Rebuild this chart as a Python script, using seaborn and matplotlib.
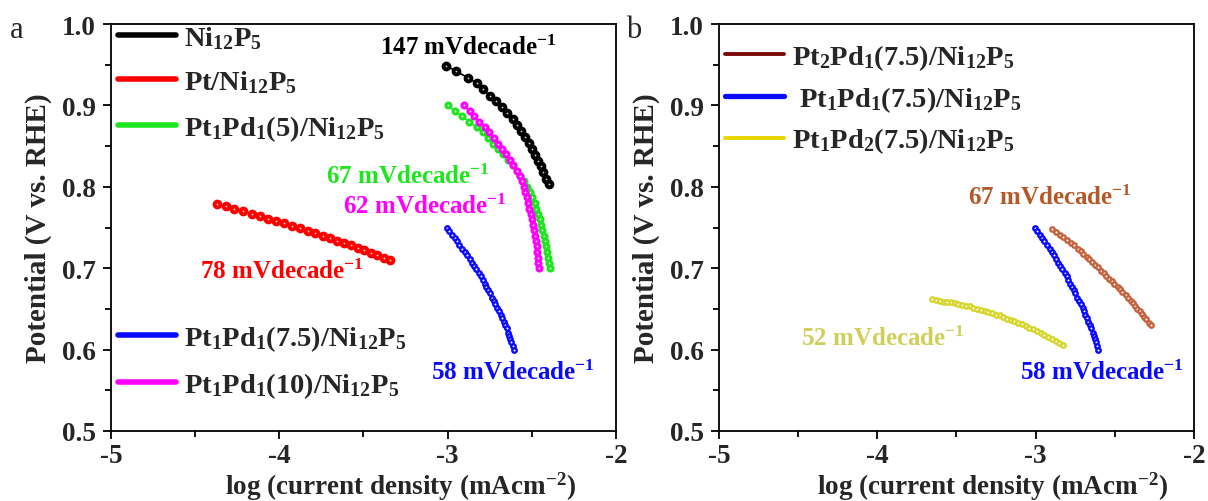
import matplotlib
matplotlib.use('Agg')
import matplotlib.pyplot as plt
import seaborn as sns
from matplotlib.lines import Line2D
from matplotlib.ticker import MultipleLocator

# ---------------- data ----------------
ni_x = [-3.010, -2.950, -2.880, -2.825, -2.790, -2.750, -2.715, -2.680, -2.650, -2.610,
        -2.587, -2.565, -2.540, -2.517, -2.500, -2.480, -2.465, -2.447, -2.433, -2.415, -2.400]
ni_y = [0.949, 0.942, 0.934, 0.927, 0.920, 0.912, 0.905, 0.898, 0.891, 0.883,
        0.876, 0.869, 0.861, 0.854, 0.847, 0.839, 0.832, 0.825, 0.818, 0.810, 0.803]

pt_x = [-4.370, -4.318, -4.267, -4.216, -4.165, -4.115, -4.066, -4.018, -3.970, -3.923,
        -3.877, -3.832, -3.787, -3.743, -3.700, -3.658, -3.616, -3.575, -3.535, -3.495,
        -3.456, -3.417, -3.379, -3.341]
pt_y = [0.779, 0.776, 0.773, 0.770, 0.767, 0.764, 0.761, 0.758, 0.755, 0.752,
        0.749, 0.746, 0.743, 0.740, 0.737, 0.734, 0.731, 0.728, 0.725, 0.722,
        0.719, 0.716, 0.713, 0.710]

p5_x = [-3.000, -2.955, -2.917, -2.873, -2.828, -2.790, -2.759, -2.729, -2.702, -2.671,
        -2.641, -2.614, -2.591, -2.568, -2.548, -2.530, -2.512, -2.497, -2.484, -2.473,
        -2.463, -2.454, -2.445, -2.437, -2.430, -2.423, -2.416, -2.409, -2.402, -2.396, -2.390]
p5_y = [0.900, 0.893, 0.887, 0.880, 0.873, 0.867, 0.860, 0.853, 0.847, 0.840,
        0.833, 0.827, 0.820, 0.813, 0.807, 0.800, 0.793, 0.787, 0.780, 0.773,
        0.767, 0.760, 0.753, 0.747, 0.740, 0.733, 0.727, 0.720, 0.713, 0.707, 0.700]

p10_x = [-2.900, -2.869, -2.842, -2.811, -2.780, -2.752, -2.725, -2.700, -2.679, -2.655,
         -2.631, -2.610, -2.588, -2.572, -2.560, -2.548, -2.538, -2.530, -2.522, -2.514,
         -2.507, -2.500, -2.493, -2.486, -2.480, -2.476, -2.472, -2.469, -2.466, -2.463, -2.460]
p10_y = [0.900, 0.893, 0.887, 0.880, 0.873, 0.867, 0.860, 0.853, 0.847, 0.840,
         0.833, 0.827, 0.820, 0.813, 0.807, 0.800, 0.793, 0.787, 0.780, 0.773,
         0.767, 0.760, 0.753, 0.747, 0.740, 0.733, 0.727, 0.720, 0.713, 0.707, 0.700]

p75_x = [-3.006, -2.992, -2.974, -2.959, -2.945, -2.930, -2.912, -2.899, -2.886, -2.870,
         -2.857, -2.845, -2.832, -2.816, -2.803, -2.793, -2.780, -2.770, -2.760, -2.749,
         -2.737, -2.726, -2.716, -2.704, -2.695, -2.686, -2.677, -2.667, -2.658, -2.649,
         -2.639, -2.633, -2.627, -2.621, -2.614, -2.608]
p75_y = [0.750, 0.746, 0.741, 0.737, 0.733, 0.729, 0.724, 0.720, 0.716, 0.711,
         0.707, 0.703, 0.699, 0.694, 0.690, 0.686, 0.681, 0.677, 0.673, 0.669,
         0.664, 0.660, 0.656, 0.651, 0.647, 0.643, 0.639, 0.634, 0.630, 0.626,
         0.621, 0.617, 0.613, 0.609, 0.604, 0.600]

pt2_x = [-2.895, -2.874, -2.846, -2.826, -2.805, -2.778, -2.757, -2.732, -2.716, -2.699,
         -2.678, -2.661, -2.645, -2.623, -2.607, -2.586, -2.570, -2.555, -2.535, -2.519,
         -2.504, -2.483, -2.468, -2.452, -2.432, -2.418, -2.401, -2.388, -2.374, -2.357,
         -2.344, -2.331, -2.313, -2.300, -2.283, -2.269]
pt2_y = [0.748, 0.745, 0.741, 0.738, 0.735, 0.731, 0.728, 0.724, 0.721, 0.718,
         0.714, 0.711, 0.708, 0.704, 0.701, 0.697, 0.694, 0.691, 0.687, 0.684,
         0.681, 0.677, 0.674, 0.671, 0.667, 0.664, 0.660, 0.657, 0.654, 0.650,
         0.647, 0.644, 0.640, 0.637, 0.633, 0.630]

pd2_x = [-3.653, -3.629, -3.606, -3.582, -3.559, -3.535, -3.511, -3.488, -3.464, -3.441,
         -3.417, -3.393, -3.370, -3.346, -3.323, -3.299, -3.275, -3.252, -3.228, -3.205,
         -3.181, -3.157, -3.134, -3.110, -3.087, -3.063, -3.039, -3.016, -2.992, -2.969,
         -2.945, -2.921, -2.898, -2.874, -2.851, -2.828]
pd2_y = [0.662, 0.661, 0.660, 0.659, 0.659, 0.658, 0.657, 0.656, 0.655, 0.654,
         0.653, 0.651, 0.650, 0.649, 0.647, 0.646, 0.645, 0.643, 0.642, 0.640,
         0.638, 0.636, 0.635, 0.633, 0.631, 0.629, 0.627, 0.625, 0.623, 0.620,
         0.618, 0.615, 0.613, 0.611, 0.608, 0.606]

labels_a_top = ['Ni$_{12}$P$_{5}$', 'Pt/Ni$_{12}$P$_{5}$', 'Pt$_{1}$Pd$_{1}$(5)/Ni$_{12}$P$_{5}$']
labels_a_bot = ['Pt$_{1}$Pd$_{1}$(7.5)/Ni$_{12}$P$_{5}$', 'Pt$_{1}$Pd$_{1}$(10)/Ni$_{12}$P$_{5}$']
labels_b = ['Pt$_{2}$Pd$_{1}$(7.5)/Ni$_{12}$P$_{5}$', ' Pt$_{1}$Pd$_{1}$(7.5)/Ni$_{12}$P$_{5}$',
            'Pt$_{1}$Pd$_{2}$(7.5)/Ni$_{12}$P$_{5}$']
slopes_a = ['147 mVdecade$^{-1}$', '78 mVdecade$^{-1}$', '67 mVdecade$^{-1}$',
            '62 mVdecade$^{-1}$', '58 mVdecade$^{-1}$']
slopes_b = ['67 mVdecade$^{-1}$', '58 mVdecade$^{-1}$', '52 mVdecade$^{-1}$']
x_ticks = [-5, -4, -3, -2]
y_ticks = [0.5, 0.6, 0.7, 0.8, 0.9, 1.0]

# ---------------- style ----------------
sns.set_theme(style='ticks')
plt.rcParams['font.family'] = ['Liberation Serif', 'DejaVu Serif']
plt.rcParams['font.weight'] = 'bold'
plt.rcParams['mathtext.fontset'] = 'custom'
plt.rcParams['mathtext.rm'] = 'Liberation Serif:bold'
plt.rcParams['mathtext.it'] = 'Liberation Serif:bold'
plt.rcParams['mathtext.bf'] = 'Liberation Serif:bold'
plt.rcParams['axes.unicode_minus'] = False

BLACK = '#000000'
RED = '#ff0000'
GREEN = '#1ee61e'
MAGENTA = '#ff00ff'
BLUE = '#0a0aff'
BROWN_M = '#c4643e'
BROWN_L = '#7d0a0a'
BROWN_T = '#b45a28'
YEL_M = '#d6d62e'
YEL_L = '#e8d600'
YEL_T = '#cfcf5a'

fig = plt.figure(figsize=(12.08, 5.02), dpi=100)
axa = fig.add_axes([111 / 1208, 70 / 502, 505 / 1208, 407 / 502])
axb = fig.add_axes([719 / 1208, 70 / 502, 475 / 1208, 407 / 502])


def curve(ax, x, y, col, face, ms, mew):
    sns.lineplot(x=x, y=y, ax=ax, color=col, linewidth=1.2, marker='o',
                 markersize=ms, markeredgewidth=mew, markeredgecolor=col,
                 markerfacecolor=face, sort=False, estimator=None, legend=False)


curve(axa, pt_x, pt_y, RED, '#ffd0d0', 4.2, 2.8)
curve(axa, p5_x, p5_y, GREEN, '#e8ffe8', 3.6, 2.2)
curve(axa, p10_x, p10_y, MAGENTA, '#ffe8ff', 3.6, 2.2)
curve(axa, ni_x, ni_y, BLACK, '#c8c8c8', 4.2, 2.8)
curve(axa, p75_x, p75_y, BLUE, 'white', 3.2, 1.7)

curve(axb, pt2_x, pt2_y, BROWN_M, 'white', 3.2, 1.7)
curve(axb, p75_x, p75_y, BLUE, 'white', 3.2, 1.7)
curve(axb, pd2_x, pd2_y, YEL_M, 'white', 3.2, 1.7)

for ax, xl in ((axa, 0.573), (axb, 0.576)):
    ax.set_xlim(-5, -2)
    ax.set_ylim(0.5, 1.0)
    ax.set_xticks(x_ticks)
    ax.set_yticks(y_ticks)
    ax.set_xticklabels([str(v) for v in x_ticks])
    ax.set_yticklabels(['%.1f' % v for v in y_ticks])
    ax.xaxis.set_minor_locator(MultipleLocator(0.5))
    ax.yaxis.set_minor_locator(MultipleLocator(0.05))
    ax.tick_params(which='both', direction='out', color='black', width=1.3,
                   top=False, right=False)
    ax.tick_params(which='major', length=6, labelsize=19.5)
    ax.tick_params(axis='x', which='major', pad=2.5)
    ax.tick_params(axis='y', which='major', pad=5)
    ax.tick_params(which='minor', length=4.5)
    for sp in ax.spines.values():
        sp.set_visible(True)
        sp.set_color('black')
        sp.set_linewidth(1.3)
    ax.set_xlabel('log (current density (mAcm$^{-2}$)', fontsize=19.5,
                  fontweight='bold')
    ax.xaxis.set_label_coords(xl, -0.094, transform=ax.transAxes)
    ax.xaxis.label.set_va('top')
    ax.set_ylabel('Potential (V vs. RHE)', fontsize=21, fontweight='bold', labelpad=7)
    ax.set_facecolor('white')

# annotations panel a
FS = 18
axa.text(-3.40, 0.972, slopes_a[0], color=BLACK, fontsize=FS, va='center', ha='left')
axa.text(-4.47, 0.697, slopes_a[1], color=RED, fontsize=FS, va='center', ha='left')
axa.text(-3.72, 0.814, slopes_a[2], color=GREEN, fontsize=FS, va='center', ha='left')
axa.text(-3.62, 0.777, slopes_a[3], color=MAGENTA, fontsize=FS, va='center', ha='left')
axa.text(-3.10, 0.573, slopes_a[4], color=BLUE, fontsize=FS, va='center', ha='left')

# annotations panel b
axb.text(-3.43, 0.788, slopes_b[0], color=BROWN_T, fontsize=FS, va='center', ha='left')
axb.text(-3.10, 0.573, slopes_b[1], color=BLUE, fontsize=FS, va='center', ha='left')
axb.text(-4.48, 0.614, slopes_b[2], color=YEL_T, fontsize=FS, va='center', ha='left')

legprop = {'family': 'Liberation Serif', 'weight': 'bold', 'size': 20.5}
legkw = dict(loc='upper left', frameon=False, prop=legprop, handlelength=2.05,
             handletextpad=0.3, borderaxespad=0, borderpad=0)

ha_top = [Line2D([], [], color=c, lw=4) for c in (BLACK, RED, GREEN)]
leg1 = axa.legend(ha_top, labels_a_top, bbox_to_anchor=(0.013, 1.0),
                  labelspacing=0.62, **legkw)
axa.add_artist(leg1)
ha_bot = [Line2D([], [], color=c, lw=4) for c in (BLUE, MAGENTA)]
axa.legend(ha_bot, labels_a_bot, bbox_to_anchor=(0.013, 0.265),
           labelspacing=0.62, **legkw)

hb = [Line2D([], [], color=BROWN_L, lw=2.8), Line2D([], [], color=BLUE, lw=3.8),
      Line2D([], [], color=YEL_L, lw=2.8)]
axb.legend(hb, labels_b, bbox_to_anchor=(0.013, 0.955), labelspacing=0.42, **legkw)

fig.text(0.008, 0.925, 'a', fontsize=22, fontweight='normal', family='Liberation Serif')
fig.text(0.518, 0.925, 'b', fontsize=22, fontweight='normal', family='Liberation Serif')

fig.savefig('out.png', dpi=100, facecolor='white')
